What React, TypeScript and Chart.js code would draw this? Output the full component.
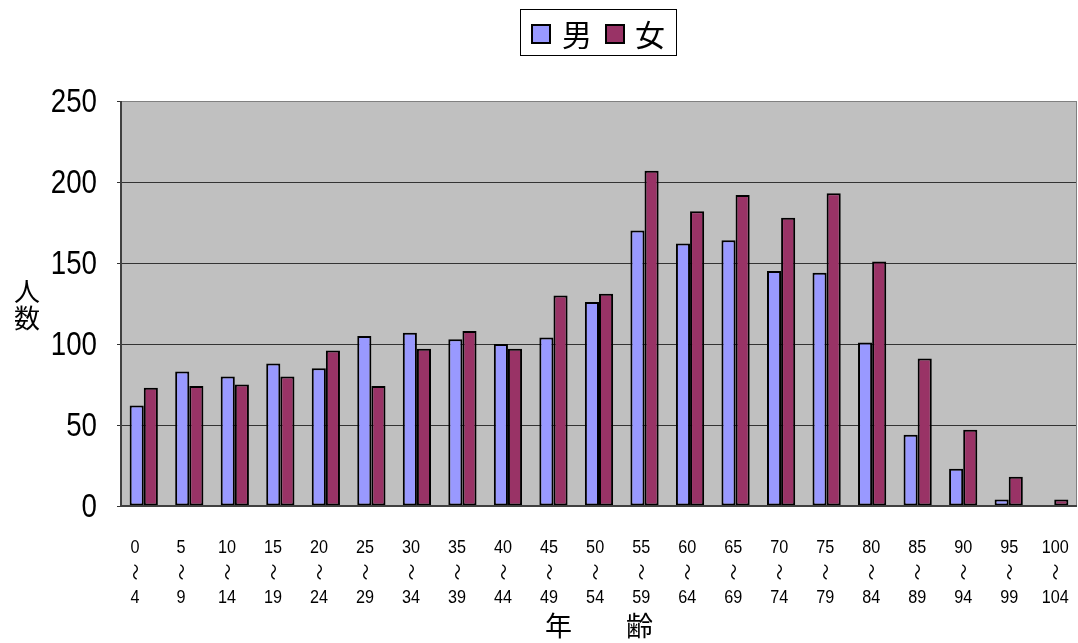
import React, { useEffect, useRef } from "react";
import { Chart, registerables } from "chart.js";

Chart.register(...registerables);

const ageFrom: string[] = ["0", "5", "10", "15", "20", "25", "30", "35", "40", "45", "50", "55", "60", "65", "70", "75", "80", "85", "90", "95", "100"];
const ageTo: string[] = ["4", "9", "14", "19", "24", "29", "34", "39", "44", "49", "54", "59", "64", "69", "74", "79", "84", "89", "94", "99", "104"];
const categories: string[] = ageFrom.map((a, i) => `${a}〜${ageTo[i]}`);

const male: number[] = [62, 83, 80, 88, 85, 105, 107, 103, 100, 104, 126, 170, 162, 164, 145, 144, 101, 44, 23, 4, 0];
const female: number[] = [73, 74, 75, 80, 96, 74, 97, 108, 97, 130, 131, 207, 182, 192, 178, 193, 151, 91, 47, 18, 4];

const seriesNames = ["男", "女"];
const yAxisTitle = ["人", "数"];
const xAxisTitle = "年　　齢";
const waveMark = "〜";

const MALE_COLOR = "#9999FF";
const FEMALE_COLOR = "#993366";
const CJK = "'Noto Sans CJK JP', sans-serif";
const NUM = "'Liberation Sans', Arial, sans-serif";

const decorPlugin = {
  id: "decor",
  beforeDraw(chart: any) {
    const { ctx, chartArea } = chart;
    ctx.save();
    ctx.fillStyle = "#C0C0C0";
    ctx.fillRect(chartArea.left, chartArea.top, chartArea.right - chartArea.left, chartArea.bottom - chartArea.top);
    ctx.restore();
  },
  afterDraw(chart: any) {
    const { ctx, chartArea } = chart;
    ctx.save();
    // plot border
    ctx.strokeStyle = "#808080";
    ctx.lineWidth = 1;
    ctx.strokeRect(chartArea.left + 0.5, chartArea.top + 0.5, chartArea.right - chartArea.left - 1, chartArea.bottom - chartArea.top - 1);
    ctx.strokeStyle = "#404040";
    ctx.lineWidth = 2;
    ctx.beginPath();
    ctx.moveTo(chartArea.left, chartArea.top);
    ctx.lineTo(chartArea.left, chartArea.bottom);
    ctx.lineTo(chartArea.right, chartArea.bottom);
    ctx.stroke();

    // y tick labels (condensed)
    const ys = chart.scales.y;
    ctx.fillStyle = "#000";
    ctx.font = `33px ${NUM}`;
    ctx.textAlign = "right";
    ctx.textBaseline = "middle";
    for (const t of ys.ticks) {
      const y = ys.getPixelForValue(t.value);
      ctx.save();
      ctx.translate(97, y + 2);
      ctx.scale(0.84, 1);
      ctx.fillText(String(t.value), 0, 0);
      ctx.restore();
    }

    // x tick labels: from / wave / to
    const xs = chart.scales.x;
    const n = ageFrom.length;
    for (let i = 0; i < n; i++) {
      const x = xs.getPixelForValue(i) - 8.75 + (9.75 * i) / (n - 1);
      ctx.fillStyle = "#000";
      ctx.font = `18px ${NUM}`;
      ctx.textAlign = "center";
      ctx.textBaseline = "middle";
      ctx.save();
      ctx.translate(x, 548);
      ctx.scale(0.9, 1);
      ctx.fillText(ageFrom[i], 0, 0);
      ctx.restore();
      ctx.save();
      ctx.translate(x, 598);
      ctx.scale(0.9, 1);
      ctx.fillText(ageTo[i], 0, 0);
      ctx.restore();
      ctx.save();
      ctx.translate(x, 572);
      ctx.rotate(Math.PI / 2);
      ctx.font = `17px ${CJK}`;
      ctx.fillText(waveMark, 0, 0);
      ctx.restore();
    }

    // y-axis title (stacked vertical)
    ctx.fillStyle = "#000";
    ctx.font = `26px ${CJK}`;
    ctx.textAlign = "center";
    ctx.textBaseline = "middle";
    ctx.fillText(yAxisTitle[0], 27, 291);
    ctx.fillText(yAxisTitle[1], 27, 318);

    // legend
    ctx.fillStyle = "#fff";
    ctx.fillRect(520, 9, 156, 46);
    ctx.strokeStyle = "#000";
    ctx.lineWidth = 1;
    ctx.strokeRect(520.5, 9.5, 156, 46);
    const items = [
      { x: 532, color: MALE_COLOR, text: seriesNames[0], tx: 562 },
      { x: 606, color: FEMALE_COLOR, text: seriesNames[1], tx: 635 },
    ];
    ctx.font = `30px ${CJK}`;
    ctx.textAlign = "left";
    ctx.textBaseline = "middle";
    for (const it of items) {
      ctx.fillStyle = it.color;
      ctx.fillRect(it.x, 25, 18, 18);
      ctx.lineWidth = 2;
      ctx.strokeStyle = "#000";
      ctx.strokeRect(it.x, 25, 18, 18);
      ctx.fillStyle = "#000";
      ctx.fillText(it.text, it.tx, 35);
    }
    ctx.restore();
  },
};

export default function App() {
  const ref = useRef<HTMLCanvasElement>(null);
  useEffect(() => {
    if (!ref.current) return;
    const chart = new Chart(ref.current, {
      type: "bar",
      data: {
        labels: categories,
        datasets: [
          { label: seriesNames[0], data: male, backgroundColor: MALE_COLOR, borderColor: "#000", borderWidth: 2, borderSkipped: false },
          { label: seriesNames[1], data: female, backgroundColor: FEMALE_COLOR, borderColor: "#000", borderWidth: 2, borderSkipped: false },
        ],
      },
      options: {
        responsive: false,
        animation: false,
        layout: { padding: { top: 101, left: 0, right: 1, bottom: 0 } },
        datasets: { bar: { categoryPercentage: 0.62, barPercentage: 1.0 } },
        plugins: {
          legend: { display: false },
          tooltip: { enabled: false },
          title: { display: false },
        },
        scales: {
          x: {
            grid: { display: false, drawTicks: false },
            border: { display: false },
            ticks: { display: false },
            title: {
              display: true,
              text: xAxisTitle,
              color: "#000",
              font: { size: 27, family: CJK },
              padding: { top: 0, bottom: 1 },
            },
            afterFit(scale: any) {
              scale.height = 137;
              scale.paddingLeft = 0;
              scale.paddingRight = 0;
            },
          },
          y: {
            min: 0,
            max: 250,
            ticks: { stepSize: 50, display: false },
            grid: { color: "#333", lineWidth: 1, tickLength: 4 },
            border: { display: false },
            afterFit(scale: any) {
              scale.width = 121;
            },
          },
        },
      },
      plugins: [decorPlugin],
    });
    return () => chart.destroy();
  }, []);
  return (
    <div style={{ position: "fixed", left: 0, top: 0, width: 1078, height: 643, background: "#fff" }}>
      <canvas ref={ref} width={1078} height={643} style={{ width: 1078, height: 643 }} />
    </div>
  );
}
